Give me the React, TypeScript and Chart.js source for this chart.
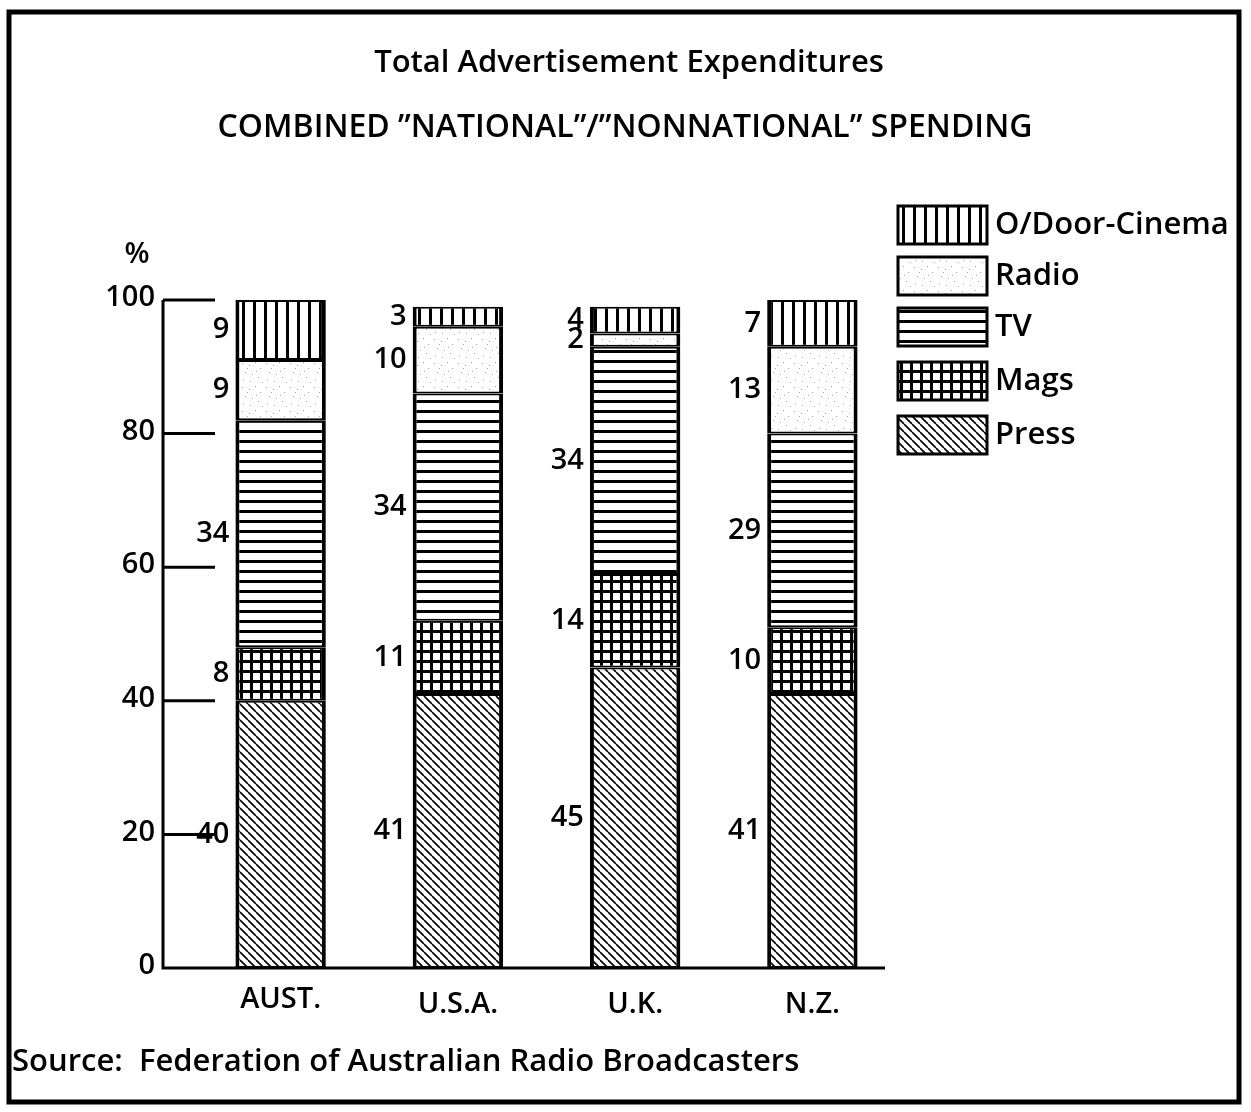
import React, { useEffect, useRef } from "react";
import { Chart, registerables } from "chart.js";

Chart.register(...registerables);

const categories = ["AUST.", "U.S.A.", "U.K.", "N.Z."];
const pressValues = [40, 41, 45, 41];
const magsValues = [8, 11, 14, 10];
const tvValues = [34, 34, 34, 29];
const radioValues = [9, 10, 2, 13];
const outdoorValues = [9, 3, 4, 7];
const yTickValues = [0, 20, 40, 60, 80, 100];
const legendLabels = ["O/Door-Cinema", "Radio", "TV", "Mags", "Press"];
const titleText = "Total Advertisement Expenditures";
const subtitleText = "COMBINED \u201DNATIONAL\u201D/\u201DNONNATIONAL\u201D SPENDING";
const sourceText = "Source:  Federation of Australian Radio Broadcasters";

const FONT = "'Open Sans', 'DejaVu Sans', sans-serif";

function tile(w: number, h: number, draw: (g: CanvasRenderingContext2D) => void) {
  const c = document.createElement("canvas");
  c.width = w;
  c.height = h;
  const g = c.getContext("2d") as CanvasRenderingContext2D;
  g.fillStyle = "#fff";
  g.fillRect(0, 0, w, h);
  draw(g);
  return c;
}

function makePatterns(ctx: CanvasRenderingContext2D) {
  const press = tile(8, 8, (g) => {
    g.strokeStyle = "#000";
    g.lineWidth = 1.7;
    for (const k of [-8, 0, 8]) {
      g.beginPath();
      g.moveTo(k, 0);
      g.lineTo(k + 8, 8);
      g.stroke();
    }
  });
  const mags = tile(10, 10, (g) => {
    g.fillStyle = "#000";
    g.fillRect(0, 0, 10, 10);
    g.fillStyle = "#fff";
    g.fillRect(3, 3, 7, 7);
  });
  const tv = tile(10, 10, (g) => {
    g.fillStyle = "#000";
    g.fillRect(0, 0, 10, 3);
  });
  const radio = tile(24, 24, (g) => {
    g.fillStyle = "#aaa";
    const pts = [
      [2, 3], [9, 5], [15, 2], [20, 8], [5, 12], [12, 14], [18, 17], [3, 20], [10, 21], [22, 22], [7, 8], [16, 11],
    ];
    for (const [x, y] of pts) g.fillRect(x, y, 1, 1);
  });
  const outdoor = tile(11, 10, (g) => {
    g.fillStyle = "#000";
    g.fillRect(0, 0, 3, 10);
  });
  return {
    press: ctx.createPattern(press, "repeat") as CanvasPattern,
    mags: ctx.createPattern(mags, "repeat") as CanvasPattern,
    tv: ctx.createPattern(tv, "repeat") as CanvasPattern,
    radio: ctx.createPattern(radio, "repeat") as CanvasPattern,
    outdoor: ctx.createPattern(outdoor, "repeat") as CanvasPattern,
  };
}

export default function App() {
  const ref = useRef<HTMLCanvasElement | null>(null);

  useEffect(() => {
    const canvas = ref.current;
    if (!canvas) return;
    const ctx = canvas.getContext("2d") as CanvasRenderingContext2D;
    const pats = makePatterns(ctx);
    const legendFills = [pats.outdoor, pats.radio, pats.tv, pats.mags, pats.press];

    const decor = {
      id: "decor",
      beforeDraw(chart: any) {
        const c = chart.ctx as CanvasRenderingContext2D;
        c.save();
        c.fillStyle = "#fff";
        c.fillRect(0, 0, chart.width, chart.height);
        c.restore();
      },
      afterDatasetsDraw(chart: any) {
        const c = chart.ctx as CanvasRenderingContext2D;
        const ys = chart.scales.y;
        const xs = chart.scales.x;
        c.save();
        c.fillStyle = "#000";
        c.strokeStyle = "#000";

        // frame
        c.lineWidth = 5;
        c.strokeRect(9, 12, 1230, 1090);

        // titles
        c.textAlign = "center";
        c.textBaseline = "middle";
        c.font = `600 31px ${FONT}`;
        c.fillText(titleText, 629, 63);
        c.font = `600 32px ${FONT}`;
        c.fillText(subtitleText, 625, 128);

        // y axis
        const axisX = 163;
        const y0 = ys.getPixelForValue(0);
        const y100 = ys.getPixelForValue(100);
        c.lineWidth = 3;
        c.beginPath();
        c.moveTo(axisX, y100);
        c.lineTo(axisX, y0);
        c.lineTo(885, y0);
        c.stroke();
        c.font = `600 29px ${FONT}`;
        c.textAlign = "right";
        for (const v of yTickValues) {
          const py = ys.getPixelForValue(v);
          if (v > 0) {
            c.beginPath();
            c.moveTo(axisX, py);
            c.lineTo(215, py);
            c.stroke();
          }
          c.fillText(String(v), 155, py - 2);
        }
        c.textAlign = "center";
        c.fillText("%", 137, 255);

        // category labels
        categories.forEach((cat, i) => {
          c.fillText(cat, xs.getPixelForValue(i), i === 0 ? 1000 : 1005);
        });

        // value labels
        c.textAlign = "right";
        chart.data.datasets.forEach((ds: any, di: number) => {
          const meta = chart.getDatasetMeta(di);
          meta.data.forEach((el: any, i: number) => {
            const p = el.getProps(["x", "y", "base", "width"], true);
            const midY = (p.y + p.base) / 2;
            c.fillText(String(ds.data[i]), p.x - p.width / 2 - 6, midY);
          });
        });

        // legend
        const boxX = 898;
        const rowY = [225, 276, 327, 381, 435];
        c.font = `600 31px ${FONT}`;
        c.textAlign = "left";
        legendLabels.forEach((lab, i) => {
          const cy = rowY[i];
          c.fillStyle = legendFills[i];
          c.fillRect(boxX, cy - 19, 89, 38);
          c.lineWidth = 3;
          c.strokeStyle = "#000";
          c.strokeRect(boxX, cy - 19, 89, 38);
          c.fillStyle = "#000";
          c.fillText(lab, 995, cy);
        });

        // source
        c.textAlign = "left";
        c.font = `600 31px ${FONT}`;
        c.fillText(sourceText, 12, 1062);
        c.restore();
      },
    };

    const border = { left: 4, right: 4, top: 2, bottom: 2 };
    const mk = (label: string, data: number[], bg: CanvasPattern) => ({
      label,
      data,
      backgroundColor: bg,
      borderColor: "#000",
      borderWidth: border,
      borderSkipped: false as const,
      categoryPercentage: 0.51,
      barPercentage: 1.0,
    });

    const chart = new Chart(canvas, {
      type: "bar",
      data: {
        labels: categories,
        datasets: [
          mk("Press", pressValues, pats.press),
          mk("Mags", magsValues, pats.mags),
          mk("TV", tvValues, pats.tv),
          mk("Radio", radioValues, pats.radio),
          mk("O/Door-Cinema", outdoorValues, pats.outdoor),
        ],
      },
      options: {
        responsive: false,
        animation: false,
        devicePixelRatio: 1,
        layout: { padding: { left: 192, right: 350, top: 300, bottom: 144 } },
        plugins: { legend: { display: false }, tooltip: { enabled: false }, title: { display: false } },
        scales: {
          x: { stacked: true, display: false },
          y: { stacked: true, display: false, min: 0, max: 100 },
        },
      },
      plugins: [decor],
    });
    return () => chart.destroy();
  }, []);

  return (
    <div style={{ position: "absolute", left: 0, top: 0, width: 1251, height: 1112, background: "#fff" }}>
      <canvas ref={ref} width={1251} height={1112} style={{ display: "block" }} />
    </div>
  );
}
